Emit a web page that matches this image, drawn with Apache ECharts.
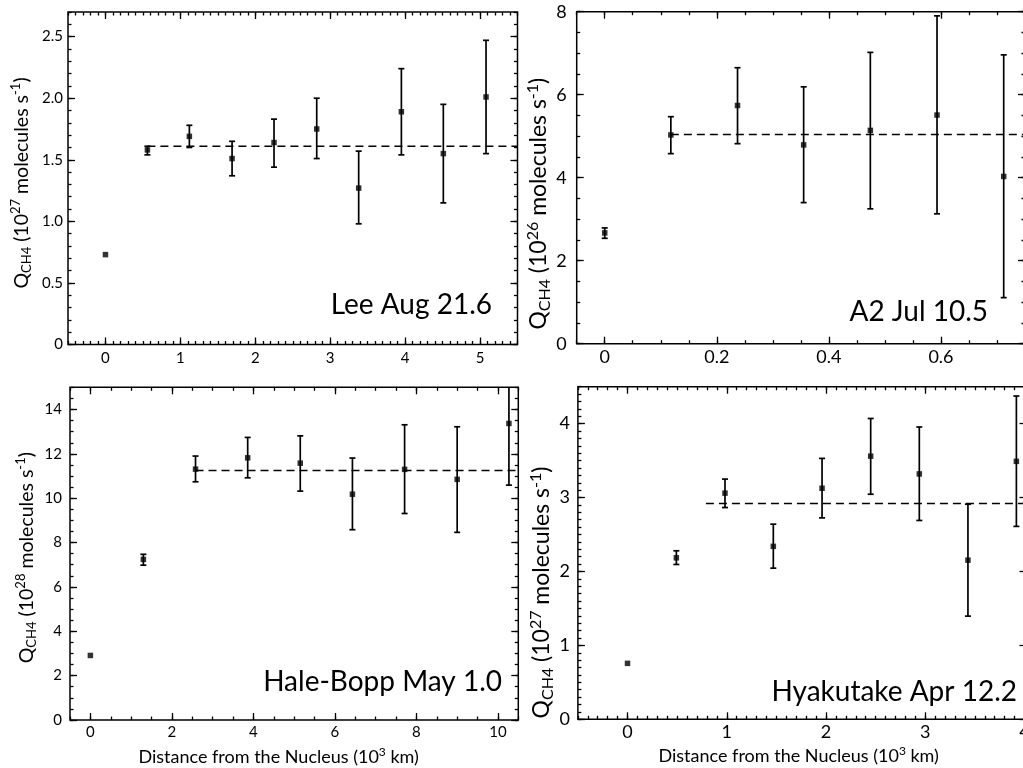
<!DOCTYPE html>
<html><head><meta charset="utf-8">
<script src="https://cdn.jsdelivr.net/npm/echarts@6/dist/echarts.min.js"></script>
<style>html,body{margin:0;padding:0;background:#fff;}#c{width:1023px;height:768px;}</style>
</head><body><div id="c"></div>
<script>
// ---------------- DATA ----------------
// Lee Aug 21.6  (10^27 molecules/s)
const leeX  = [0, 0.56, 1.12, 1.69, 2.25, 2.82, 3.38, 3.95, 4.51, 5.08];
const leeY  = [0.73, 1.58, 1.69, 1.51, 1.64, 1.75, 1.27, 1.89, 1.55, 2.01];
const leeLo = [null, 1.54, 1.60, 1.37, 1.44, 1.51, 0.98, 1.54, 1.15, 1.55];
const leeHi = [null, 1.61, 1.78, 1.65, 1.83, 2.00, 1.57, 2.24, 1.95, 2.47];
const leeMean = 1.61, leeMeanStart = 0.56;
const leeXTicks = [0, 1, 2, 3, 4, 5];
const leeYTicks = [0, 0.5, 1.0, 1.5, 2.0, 2.5];

// A2 Jul 10.5  (10^26 molecules/s)
const a2X  = [0, 0.118, 0.237, 0.355, 0.474, 0.593, 0.712];
const a2Y  = [2.67, 5.03, 5.74, 4.79, 5.14, 5.51, 4.03];
const a2Lo = [2.54, 4.58, 4.82, 3.40, 3.25, 3.13, 1.11];
const a2Hi = [2.79, 5.47, 6.65, 6.19, 7.02, 7.90, 6.96];
const a2Mean = 5.04, a2MeanStart = 0.118;
const a2XTicks = [0, 0.2, 0.4, 0.6];
const a2YTicks = [0, 2, 4, 6, 8];

// Hale-Bopp May 1.0  (10^28 molecules/s)
const hbX  = [0, 1.30, 2.58, 3.86, 5.15, 6.43, 7.71, 9.00, 10.27];
const hbY  = [2.91, 7.24, 11.31, 11.82, 11.58, 10.18, 11.30, 10.85, 13.37];
const hbLo = [null, 6.98, 10.74, 10.92, 10.32, 8.58, 9.31, 8.46, 10.59];
const hbHi = [null, 7.47, 11.90, 12.74, 12.81, 11.81, 13.31, 13.22, 16.15];
const hbMean = 11.25, hbMeanStart = 2.58;
const hbXTicks = [0, 2, 4, 6, 8, 10];
const hbYTicks = [0, 2, 4, 6, 8, 10, 12, 14];

// Hyakutake Apr 12.2  (10^27 molecules/s)
const hyX  = [0, 0.492, 0.982, 1.469, 1.96, 2.45, 2.94, 3.43, 3.918];
const hyY  = [0.757, 2.185, 3.06, 2.34, 3.126, 3.56, 3.32, 2.153, 3.49];
const hyLo = [null, 2.095, 2.865, 2.045, 2.725, 3.045, 2.69, 1.396, 2.61];
const hyHi = [null, 2.28, 3.25, 2.64, 3.53, 4.07, 3.955, 2.91, 4.374];
const hyMean = 2.92, hyMeanStart = 0.79;
const hyXTicks = [0, 1, 2, 3, 4];
const hyYTicks = [0, 1, 2, 3, 4];

// ---------------- LAYOUT / STYLE ----------------
const FONT = 'Lato, "Noto Sans", sans-serif';
function range(a, b, s) { const out = []; const n = Math.floor((b - a) / s + 1e-9); for (let i = 0; i <= n; i++) out.push(+(a + i * s).toFixed(6)); return out; }
const fmt1 = v => v === 0 ? '0' : v.toFixed(1);
const fmtPlain = v => String(v);

const panels = [
  { label: 'Lee Aug 21.6', x: leeX, y: leeY, lo: leeLo, hi: leeHi, mean: leeMean, meanStart: leeMeanStart,
    xTicks: leeXTicks, yTicks: leeYTicks, xMinor: 0.1, yMinor: 0.1, xRange: [-0.5, 5.5], yRange: [0, 2.7],
    yFmt: fmt1, xFmt: fmtPlain, exp: '27', xTitle: false,
    grid: { left: 68, top: 12, width: 449.5, height: 332.5 }, fs: 15, tfs: 19.5, yGap: 34.5, yPad: 9.5, yMargin: 5, xMargin: 6,
    lab: { x: 492, y: 305 } },
  { label: 'A2 Jul 10.5', x: a2X, y: a2Y, lo: a2Lo, hi: a2Hi, mean: a2Mean, meanStart: a2MeanStart,
    xTicks: a2XTicks, yTicks: a2YTicks, xMinor: 0.05, yMinor: 0.5, xRange: [-0.05, 0.75], yRange: [0, 8],
    yFmt: fmtPlain, xFmt: fmtPlain, exp: '26', xTitle: false,
    grid: { left: 576.7, top: 11.7, width: 448.3, height: 332 }, fs: 18, tfs: 23, yGap: 17, yPad: 52, yMargin: 10, xMargin: 4,
    lab: { x: 988, y: 312 } },
  { label: 'Hale-Bopp May 1.0', x: hbX, y: hbY, lo: hbLo, hi: hbHi, mean: hbMean, meanStart: hbMeanStart,
    xTicks: hbXTicks, yTicks: hbYTicks, xMinor: 0.5, yMinor: 0.5, xRange: [-0.5, 10.5], yRange: [0, 15],
    yFmt: fmtPlain, xFmt: fmtPlain, exp: '28', xTitle: true, xPad: 31, xGap: 26.5,
    grid: { left: 70, top: 387.3, width: 448.3, height: 332.7 }, fs: 15, tfs: 19.5, yGap: 31.5, yPad: 8, yMargin: 8, xMargin: 5,
    lab: { x: 502, y: 682 } },
  { label: 'Hyakutake Apr 12.2', x: hyX, y: hyY, lo: hyLo, hi: hyHi, mean: hyMean, meanStart: hyMeanStart,
    xTicks: hyXTicks, yTicks: hyYTicks, xMinor: 0.1, yMinor: 0.1, xRange: [-0.5, 4.02], yRange: [0, 4.5],
    yFmt: fmtPlain, xFmt: fmtPlain, exp: '27', xTitle: true, xPad: 7, xGap: 26,
    grid: { left: 577.9, top: 386.7, width: 448.6, height: 332.6 }, fs: 18, tfs: 23, yGap: 18.5, yPad: 79, yMargin: 8, xMargin: 4,
    lab: { x: 1017, y: 692 } }
];

function richFor(size) {
  const s = Math.round(size * 0.68);
  const L = Math.round(size * 1.23);
  const subOff = size * 0.155, supOff = size * 0.235;
  return {
    m: { fontSize: size, fontFamily: FONT, color: '#000', lineHeight: L },
    sub: { fontSize: s, fontFamily: FONT, color: '#000', lineHeight: L - 2 * subOff, verticalAlign: 'bottom' },
    sup: { fontSize: s, fontFamily: FONT, color: '#000', lineHeight: L - 2 * supOff, verticalAlign: 'top' }
  };
}

function axis(gi, pos, rng, ticks, len, labelCfg, extra) {
  return Object.assign({
    type: 'value', gridIndex: gi, position: pos, min: rng[0], max: rng[1],
    axisLine: { show: false, onZero: false }, splitLine: { show: false },
    axisTick: { show: true, inside: true, length: len, customValues: ticks, lineStyle: { color: '#000', width: 1.3 } },
    axisLabel: labelCfg || { show: false }
  }, extra || {});
}

function errRender(params, api) {
  const x = api.value(0), lo = api.value(1), hi = api.value(2);
  const a = api.coord([x, hi]), b = api.coord([x, lo]);
  const cs = params.coordSys;
  const yTop = Math.max(a[1], cs.y), yBot = Math.min(b[1], cs.y + cs.height);
  const w = 3, st = { stroke: '#000', lineWidth: 1.7 };
  const ch = [{ type: 'line', shape: { x1: a[0], y1: yTop, x2: a[0], y2: yBot }, style: st }];
  if (a[1] >= cs.y) ch.push({ type: 'line', shape: { x1: a[0] - w, y1: a[1], x2: a[0] + w, y2: a[1] }, style: st });
  if (b[1] <= cs.y + cs.height) ch.push({ type: 'line', shape: { x1: b[0] - w, y1: b[1], x2: b[0] + w, y2: b[1] }, style: st });
  return { type: 'group', children: ch };
}

const option = { animation: false, backgroundColor: '#fff', grid: [], xAxis: [], yAxis: [], series: [], graphic: [] };

panels.forEach((p, i) => {
  option.grid.push(Object.assign({ show: true, borderColor: '#000', borderWidth: 1.5, backgroundColor: 'transparent', containLabel: false, outerBoundsMode: 'none' }, p.grid));
  const xMinorVals = range(p.xRange[0], p.xRange[1], p.xMinor);
  const yMinorVals = range(p.yRange[0], p.yRange[1], p.yMinor);
  const labStyle = (fmtFn, margin, vals) => ({ show: true, customValues: vals, formatter: fmtFn, margin: margin, color: '#000', fontSize: p.fs, fontFamily: FONT });
  const xName = p.xTitle ? {
    name: '{m|Distance from the Nucleus (10}{sup|3}{m| km)}', nameLocation: 'middle', nameGap: p.xGap,
    nameTextStyle: { rich: richFor(18), padding: [0, p.xPad, 0, 0] }
  } : {};
  option.xAxis.push(axis(i, 'bottom', p.xRange, p.xTicks, 7, labStyle(p.xFmt, p.xMargin, p.xTicks), xName));
  option.xAxis.push(axis(i, 'bottom', p.xRange, xMinorVals, 3.5));
  option.xAxis.push(axis(i, 'top', p.xRange, p.xTicks, 7));
  option.xAxis.push(axis(i, 'top', p.xRange, xMinorVals, 3.5));
  const yName = {
    name: '{m|Q}{sub|CH4}{m| (10}{sup|' + p.exp + '}{m| molecules s}{sup|-1}{m|)}',
    nameLocation: 'middle', nameRotate: 90, nameGap: p.yGap,
    nameTextStyle: { rich: richFor(p.tfs), padding: [0, p.yPad, 0, 0] }
  };
  option.yAxis.push(axis(i, 'left', p.yRange, p.yTicks, 7, labStyle(p.yFmt, p.yMargin, p.yTicks), yName));
  option.yAxis.push(axis(i, 'left', p.yRange, yMinorVals, 3.5));
  option.yAxis.push(axis(i, 'right', p.yRange, p.yTicks, 7));
  option.yAxis.push(axis(i, 'right', p.yRange, yMinorVals, 3.5));

  const xi = i * 4, yi = i * 4;
  const errData = [];
  p.x.forEach((xv, k) => { if (p.lo[k] != null) errData.push([xv, p.lo[k], p.hi[k]]); });
  option.series.push({
    type: 'line', xAxisIndex: xi, yAxisIndex: yi, symbol: 'none', silent: true, clip: true,
    data: [[p.meanStart, p.mean], [p.xRange[1], p.mean]],
    lineStyle: { color: '#000', width: 1.4, type: [8, 5] }, z: 2
  });
  option.series.push({
    type: 'custom', xAxisIndex: xi, yAxisIndex: yi, renderItem: errRender, data: errData,
    encode: { x: 0, y: [1, 2] }, silent: true, z: 3
  });
  option.series.push({
    type: 'scatter', xAxisIndex: xi, yAxisIndex: yi, symbol: 'rect', symbolSize: 5.5,
    itemStyle: { color: '#000' }, data: p.x.map((xv, k) => [xv, p.y[k]]), silent: true, z: 4
  });
  option.graphic.push({
    type: 'text', x: p.lab.x, y: p.lab.y, z: 10,
    style: { text: p.label, fill: '#000', fontSize: 28, fontFamily: FONT, align: 'right', verticalAlign: 'middle' }
  });
});

const chart = echarts.init(document.getElementById('c'), null, { renderer: 'canvas', width: 1023, height: 768 });
chart.setOption(option);
</script>
</body></html>
